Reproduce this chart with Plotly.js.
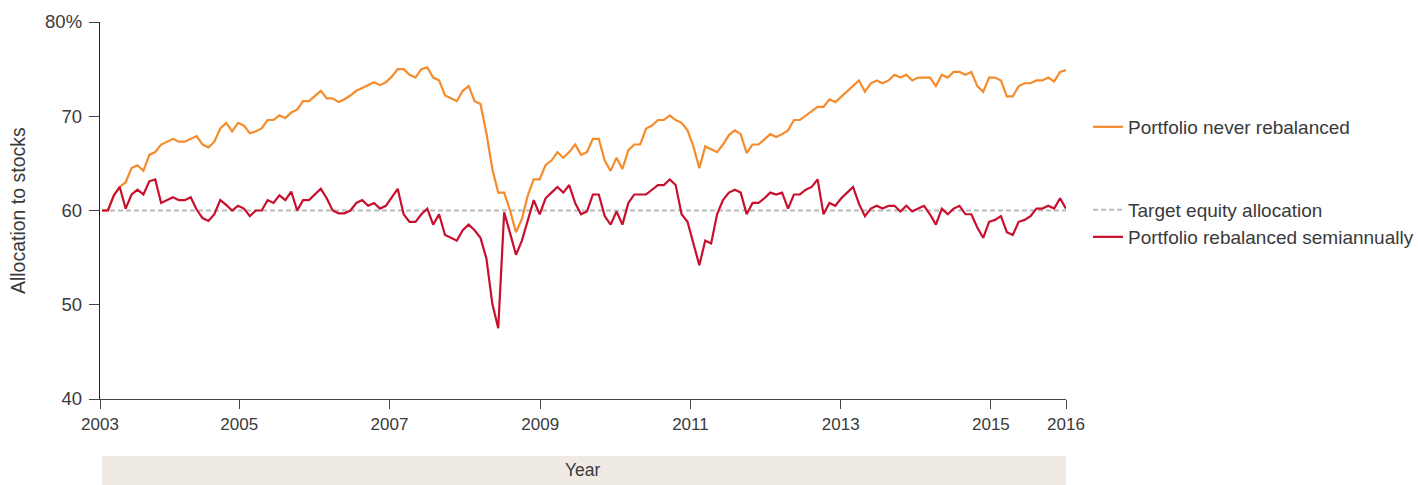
<!DOCTYPE html>
<html>
<head>
<meta charset="utf-8">
<script src="https://cdn.plot.ly/plotly-3.0.1.min.js"></script>
<style>html,body{margin:0;padding:0;background:#fff;}#chart{width:1418px;height:485px;}</style>
</head>
<body>
<div id="chart"></div>
<script>
// Allocation to stocks (%), one value per period
const neverRebalanced = [
  60.0,60.0,61.6,62.5,63.0,64.5,64.8,64.2,65.9,66.2,67.0,67.3,67.6,67.3,67.3,67.6,67.9,67.0,66.7,67.3,
  68.7,69.3,68.4,69.3,69.0,68.2,68.4,68.7,69.6,69.6,70.1,69.8,70.4,70.7,71.6,71.6,72.2,72.7,71.9,71.9,
  71.5,71.8,72.2,72.7,73.0,73.3,73.6,73.3,73.6,74.2,75.0,75.0,74.4,74.1,75.0,75.2,74.1,73.8,72.2,71.9,
  71.6,72.7,73.2,71.6,71.3,68.2,64.4,61.9,61.9,60.0,57.7,59.1,61.6,63.3,63.3,64.8,65.3,66.2,65.6,66.2,
  67.0,65.9,66.2,67.6,67.6,65.3,64.2,65.6,64.4,66.4,67.0,67.0,68.7,69.0,69.6,69.6,70.1,69.6,69.3,68.5,
  66.8,64.5,66.8,66.5,66.2,67.0,68.0,68.5,68.1,66.1,67.0,67.0,67.6,68.1,67.8,68.1,68.5,69.6,69.6,70.1,
  70.5,71.0,71.0,71.8,71.5,72.1,72.6,73.2,73.8,72.6,73.5,73.8,73.5,73.8,74.4,74.1,74.4,73.8,74.1,74.1,
  74.1,73.2,74.4,74.1,74.7,74.7,74.4,74.7,73.2,72.6,74.1,74.1,73.8,72.1,72.1,73.2,73.5,73.5,73.8,73.8,
  74.1,73.7,74.7,74.9
];
const rebalancedSemiannually = [
  60.0,60.0,61.6,62.5,60.2,61.7,62.2,61.7,63.1,63.3,60.8,61.1,61.4,61.1,61.1,61.4,60.1,59.2,58.9,59.6,
  61.1,60.6,60.0,60.5,60.2,59.4,60.0,60.0,61.1,60.8,61.6,61.1,62.0,60.0,61.1,61.1,61.7,62.3,61.3,60.0,
  59.7,59.7,60.0,60.8,61.1,60.5,60.8,60.2,60.5,61.4,62.3,59.6,58.8,58.8,59.6,60.2,58.5,59.6,57.4,57.1,
  56.8,57.9,58.5,57.9,57.1,54.9,50.1,47.5,59.8,57.6,55.3,56.8,59.1,61.1,59.6,61.3,61.9,62.5,61.9,62.7,
  60.8,59.6,59.9,61.7,61.7,59.4,58.5,59.9,58.5,60.8,61.7,61.7,61.7,62.2,62.7,62.7,63.3,62.7,59.6,58.8,
  56.5,54.2,56.8,56.5,59.6,61.1,61.9,62.2,61.9,59.6,60.8,60.8,61.3,61.9,61.7,61.9,60.2,61.7,61.7,62.2,
  62.5,63.3,59.6,60.8,60.5,61.3,61.9,62.5,60.7,59.4,60.2,60.5,60.2,60.5,60.5,59.9,60.5,59.9,60.2,60.5,
  59.6,58.5,60.2,59.6,60.2,60.5,59.6,59.6,58.2,57.1,58.8,59.0,59.4,57.7,57.4,58.8,59.0,59.4,60.2,60.2,
  60.5,60.2,61.3,60.2
];
const targetAllocation = 60;
const yearLabels = ['2003','2005','2007','2009','2011','2013','2015','2016'];
const yTickValues = [40, 50, 60, 70, 80];
const yTickLabels = ['40', '50', '60', '70', '80%'];
const seriesNames = ['Portfolio never rebalanced', 'Target equity allocation', 'Portfolio rebalanced semiannually'];

const periods = neverRebalanced.map((_, i) => i);
const lastPeriod = periods[periods.length - 1];

const FONT = 'Liberation Sans, Arial, sans-serif';
const TXT = '#3a3a3a';

const traces = [
  {
    x: [periods[0], lastPeriod], y: [targetAllocation, targetAllocation],
    type: 'scatter', mode: 'lines', name: seriesNames[1],
    line: {color: '#b9b9b9', width: 2, dash: '5px,3px'},
    legend: 'legend2', hoverinfo: 'skip'
  },
  {
    x: periods, y: neverRebalanced, type: 'scatter', mode: 'lines', name: seriesNames[0],
    line: {color: '#F68B2C', width: 2.2, shape: 'linear'},
    legend: 'legend'
  },
  {
    x: periods, y: rebalancedSemiannually, type: 'scatter', mode: 'lines', name: seriesNames[2],
    line: {color: '#C8102E', width: 2.2, shape: 'linear'},
    legend: 'legend3'
  }
];

const legendBase = {
  x: 1.0228, xanchor: 'left', yanchor: 'middle',
  font: {family: FONT, size: 19, color: TXT},
  bgcolor: 'rgba(0,0,0,0)', borderwidth: 0, itemwidth: 30
};

const layout = {
  width: 1418, height: 485,
  margin: {l: 100, r: 352, t: 22, b: 86, pad: 0, autoexpand: false},
  paper_bgcolor: '#ffffff', plot_bgcolor: '#ffffff',
  font: {family: FONT, size: 17, color: TXT},
  showlegend: true,
  legend: Object.assign({}, legendBase, {y: 0.7215}),
  legend2: Object.assign({}, legendBase, {y: 0.5013}),
  legend3: Object.assign({}, legendBase, {y: 0.4297}),
  xaxis: {
    range: [-0.338, lastPeriod],
    tickmode: 'array',
    tickvals: [-0.338, 23.2, 48.6, 74.1, 99.5, 124.9, 150.3, lastPeriod],
    ticktext: yearLabels,
    ticks: 'outside', ticklen: 9, tickwidth: 1, tickcolor: '#444',
    showline: true, linecolor: '#444', linewidth: 1.2,
    showgrid: false, zeroline: false, automargin: false,
    tickfont: {family: FONT, size: 17, color: TXT}
  },
  yaxis: {
    range: [40, 80],
    tickmode: 'array', tickvals: yTickValues, ticktext: yTickLabels,
    ticks: 'outside', ticklen: 10, tickwidth: 1, tickcolor: '#444',
    ticklabelstandoff: 3,
    showline: true, linecolor: '#222', linewidth: 1.2,
    showgrid: false, zeroline: false, automargin: false,
    tickfont: {family: FONT, size: 18.5, color: TXT}
  },
  shapes: [
    {type: 'rect', xref: 'paper', yref: 'paper', x0: 0.002, x1: 1.0, y0: -0.151, y1: -0.232,
     fillcolor: '#EFEBE4', line: {width: 0}, layer: 'below'}
  ],
  annotations: [
    {text: 'Year', xref: 'paper', yref: 'paper', x: 0.5, y: -0.189, xanchor: 'center', yanchor: 'middle',
     showarrow: false, font: {family: FONT, size: 17.5, color: TXT}},
    {text: 'Allocation to stocks', xref: 'paper', yref: 'paper', x: -0.0849, y: 0.501, textangle: -90,
     xanchor: 'center', yanchor: 'middle', showarrow: false, font: {family: FONT, size: 19.5, color: TXT}}
  ]
};

Plotly.newPlot('chart', traces, layout, {displayModeBar: false, staticPlot: true});
</script>
</body>
</html>
